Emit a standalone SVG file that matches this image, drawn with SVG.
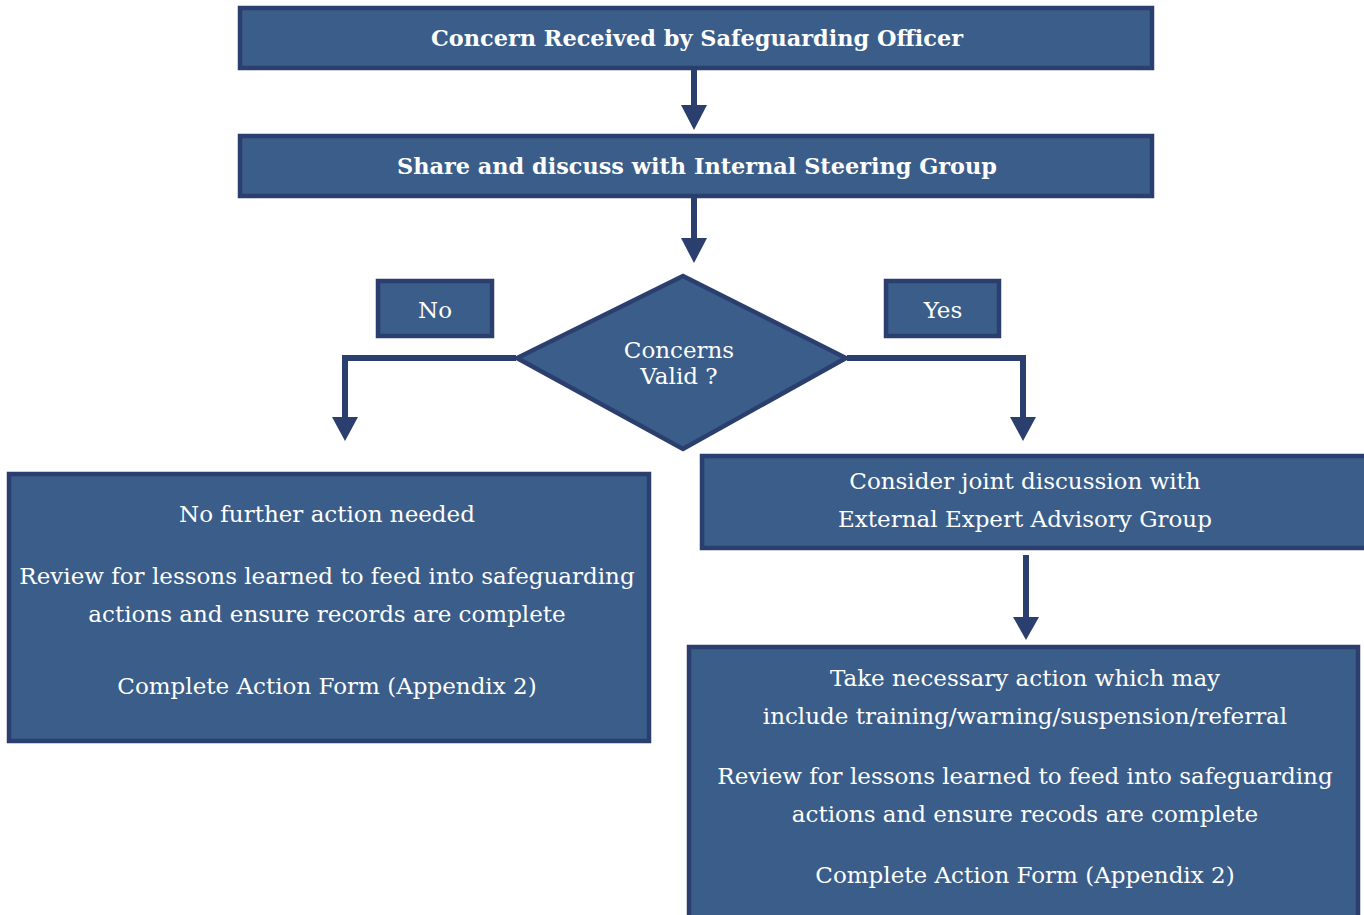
<svg xmlns="http://www.w3.org/2000/svg" width="1364" height="915" viewBox="0 0 1364 915">
<style>
.box{fill:#3a5d8a;stroke:#2a3f6d;stroke-width:4.5}
.t{font-family:"DejaVu Serif","Liberation Serif",serif;fill:#ffffff;text-anchor:middle;font-size:23px}
.b{font-weight:bold;font-size:22.4px}
.line{fill:none;stroke:#2a3f6d;stroke-width:6}
.head{fill:#2a3f6d}
</style>
<rect width="1364" height="915" fill="#ffffff"/>
<g id="connectors">
<line class="line" x1="694" y1="70" x2="694" y2="108"/>
<polygon class="head" points="681,105 707,105 694,130"/>
<line class="line" x1="694" y1="198" x2="694" y2="240"/>
<polygon class="head" points="681,238 707,238 694,263"/>
<polyline class="line" points="516,358 345,358 345,420"/>
<polygon class="head" points="332,417 358,417 345,441"/>
<polyline class="line" points="847,358 1023,358 1023,420"/>
<polygon class="head" points="1010,417 1036,417 1023,441"/>
<line class="line" x1="1026" y1="555" x2="1026" y2="620"/>
<polygon class="head" points="1013,617 1039,617 1026,640"/>
</g>
<g id="n1"><rect class="box" x="240" y="8" width="912" height="60"/><text class="t b" x="697" y="46">Concern Received by Safeguarding Officer</text></g>
<g id="n2"><rect class="box" x="240" y="136" width="912" height="60"/><text class="t b" x="697" y="174">Share and discuss with Internal Steering Group</text></g>
<g id="n3"><polygon class="box" points="683,276 846,358 683,449 517,358"/><text class="t" x="679" y="358">Concerns</text><text class="t" x="679" y="384">Valid ?</text></g>
<g id="lno"><rect class="box" x="378" y="281" width="114" height="55"/><text class="t" x="435" y="318">No</text></g>
<g id="lyes"><rect class="box" x="886" y="281" width="113" height="55"/><text class="t" x="943" y="318">Yes</text></g>
<g id="n4"><rect class="box" x="9" y="474" width="640" height="267"/>
<text class="t" x="327" y="522">No further action needed</text>
<text class="t" x="327" y="584">Review for lessons learned to feed into safeguarding</text>
<text class="t" x="327" y="622">actions and ensure records are complete</text>
<text class="t" x="327" y="694">Complete Action Form (Appendix 2)</text></g>
<g id="n5"><rect class="box" x="702" y="456" width="670" height="92"/>
<text class="t" x="1025" y="489">Consider joint discussion with</text>
<text class="t" x="1025" y="527">External Expert Advisory Group</text></g>
<g id="n6"><rect class="box" x="689" y="647" width="669" height="280"/>
<text class="t" x="1025" y="686">Take necessary action which may</text>
<text class="t" x="1025" y="724">include training/warning/suspension/referral</text>
<text class="t" x="1025" y="784">Review for lessons learned to feed into safeguarding</text>
<text class="t" x="1025" y="822">actions and ensure recods are complete</text>
<text class="t" x="1025" y="883">Complete Action Form (Appendix 2)</text></g>
</svg>
